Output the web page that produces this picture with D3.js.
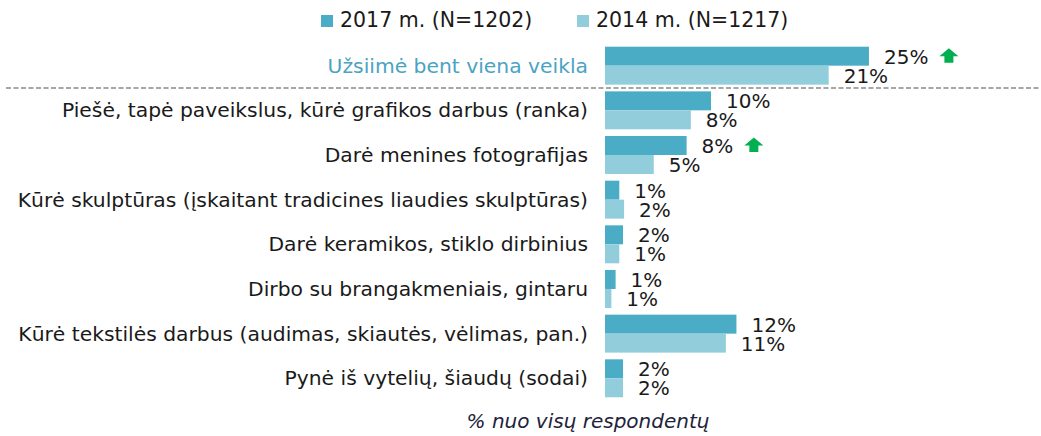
<!DOCTYPE html>
<html>
<head>
<meta charset="utf-8">
<script src="https://cdn.jsdelivr.net/npm/d3@7"></script>
<style>
  html, body { margin: 0; padding: 0; background: #fff; }
  svg { display: block; }
  text { font-family: "DejaVu Sans", Verdana, sans-serif; }
</style>
</head>
<body>
<svg id="chart" width="1041" height="436"></svg>
<script>
// Activity categories (first row is the overall total)
const categories = [
  "Užsiimė bent viena veikla",
  "Piešė, tapė paveikslus, kūrė grafikos darbus (ranka)",
  "Darė menines fotografijas",
  "Kūrė skulptūras (įskaitant tradicines liaudies skulptūras)",
  "Darė keramikos, stiklo dirbinius",
  "Dirbo su brangakmeniais, gintaru",
  "Kūrė tekstilės darbus (audimas, skiautės, vėlimas, pan.)",
  "Pynė iš vytelių, šiaudų (sodai)"
];

// Share of respondents, %
const values2017 = [24.9, 10.0, 7.7, 1.35, 1.7, 1.0, 12.4, 1.7];
const values2014 = [21.1, 8.1, 4.6, 1.8, 1.35, 0.6, 11.4, 1.7];

// Statistically significant increase since 2014
const increase2017 = [true, false, true, false, false, false, false, false];

const seriesNames = ["2017 m. (N=1202)", "2014 m. (N=1217)"];
const seriesColors = ["#4bacc6", "#92cddc"];
const footnote = "% nuo visų respondentų";

const svg = d3.select("#chart");
const x0 = 605;

const x = d3.scaleLinear().domain([0, 25]).range([x0, x0 + 265]);
const y = d3.scaleBand()
  .domain(categories)
  .range([43.35, 43.35 + 8 * 44.66])
  .paddingInner(0.15)
  .paddingOuter(0.075);
const ySub = d3.scaleBand().domain([0, 1]).range([0, y.bandwidth()]);

const rows = categories.map((c, i) => ({
  cat: c,
  i,
  vals: [values2017[i], values2014[i]],
  up: increase2017[i]
}));

// Legend
const legend = svg.append("g");
const legendX = [321, 577];
seriesNames.forEach((name, k) => {
  legend.append("rect")
    .attr("x", legendX[k]).attr("y", 15)
    .attr("width", 12).attr("height", 12)
    .attr("fill", seriesColors[k]);
  legend.append("text")
    .attr("x", legendX[k] + 19).attr("y", 27)
    .attr("font-size", 20.5)
    .attr("fill", "#1a1a1a")
    .text(name);
});

// Dashed separator between total and individual activities
const sepY = (y(categories[0]) + y.bandwidth() + y(categories[1])) / 2;
svg.append("line")
  .attr("x1", 6).attr("x2", 1041)
  .attr("y1", sepY).attr("y2", sepY)
  .attr("stroke", "#a6a6a6")
  .attr("stroke-width", 2)
  .attr("stroke-dasharray", "5,2.5");

// Category labels
svg.append("g").selectAll("text")
  .data(rows)
  .join("text")
  .attr("x", 588)
  .attr("y", d => y(d.cat) + y.bandwidth() / 2 + 7)
  .attr("text-anchor", "end")
  .attr("font-size", 20.3)
  .attr("fill", d => d.i === 0 ? "#4aa3c3" : "#1a1a1a")
  .text(d => d.cat);

// Bars and value labels
const groups = svg.append("g").selectAll("g")
  .data(rows)
  .join("g")
  .attr("transform", d => `translate(0,${y(d.cat)})`);

groups.selectAll("rect")
  .data(d => d.vals.map((v, k) => ({ v, k })))
  .join("rect")
  .attr("x", x(0))
  .attr("y", d => ySub(d.k))
  .attr("width", d => x(d.v) - x(0))
  .attr("height", ySub.bandwidth())
  .attr("fill", d => seriesColors[d.k]);

groups.selectAll("text.val")
  .data(d => d.vals.map((v, k) => ({ v, k, up: d.up })))
  .join("text")
  .attr("class", "val")
  .attr("x", d => x(d.v) + 15)
  .attr("y", d => ySub(d.k) + ySub.bandwidth() - 2)
  .attr("font-size", 20)
  .attr("fill", "#1a1a1a")
  .text(d => Math.round(d.v) + "%")
  .each(function(d) {
    if (d.k !== 0 || !d.up) return;
    // Green upward arrow after the 2017 label
    const w = this.getComputedTextLength();
    const ax = x(d.v) + 15 + w + 11;
    const top = ySub(d.k) + 1.5;
    const p = d3.path();
    p.moveTo(ax + 9.5, top);
    p.lineTo(ax + 19, top + 8);
    p.lineTo(ax + 14, top + 8);
    p.lineTo(ax + 14, top + 14.5);
    p.lineTo(ax + 5, top + 14.5);
    p.lineTo(ax + 5, top + 8);
    p.lineTo(ax, top + 8);
    p.closePath();
    d3.select(this.parentNode).append("path")
      .attr("d", p.toString())
      .attr("fill", "#00b050");
  });

// Footnote
svg.append("text")
  .attr("x", 588).attr("y", 428)
  .attr("text-anchor", "middle")
  .attr("font-size", 20)
  .attr("font-style", "italic")
  .attr("fill", "#22223a")
  .text(footnote);
</script>
</body>
</html>
